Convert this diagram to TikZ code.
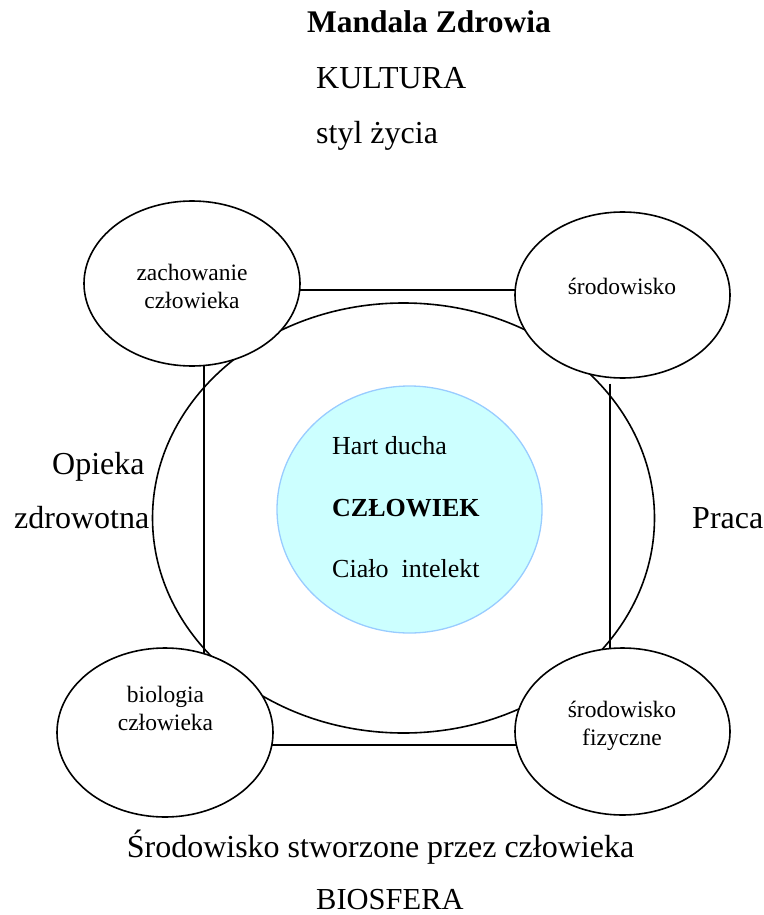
\documentclass[tikz,border=0pt]{standalone}
\usepackage{fontspec}
\setmainfont{Liberation Serif}
\usetikzlibrary{shapes.geometric}
\definecolor{corefill}{RGB}{204,255,255}
\definecolor{coreline}{RGB}{153,204,255}
\begin{document}
\begin{tikzpicture}[x=1pt,y=-1pt,
  bigtext/.style={font=\fontsize{32}{38}\selectfont, inner sep=0pt},
  ovaltext/.style={font=\fontsize{23.5}{28}\selectfont, align=center, inner sep=0pt},
  coretext/.style={font=\fontsize{26}{30}\selectfont, inner sep=0pt, anchor=base west},
  oval/.style={ellipse, draw, line width=1.6pt, fill=white, inner sep=0pt, outer sep=0pt},
  link/.style={line width=1.6pt},
]
\useasboundingbox (0,0) rectangle (763,915);

% big ellipse
\node[ellipse, draw, line width=1.6pt, inner sep=0pt, outer sep=0pt,
      minimum width=502pt, minimum height=430pt] (big) at (403.5,518) {};

% corner ovals
\node[oval, minimum width=216pt, minimum height=165pt] (tl) at (192,283.5) {};
\node[oval, minimum width=215pt, minimum height=166pt] (tr) at (622.5,295) {};
\node[oval, minimum width=216pt, minimum height=169pt] (bl) at (165,732.5) {};
\node[oval, minimum width=215pt, minimum height=167pt] (br) at (622.5,731.5) {};

% connector end points
\coordinate (topy) at (0,290);
\coordinate (boty) at (0,745);
\coordinate (leftx) at (204,0);
\coordinate (rightx) at (610,0);

% connectors
\draw[link] (tl.-3.45 |- topy) -- (tr.177.3 |- topy);
\draw[link] (tl.-81.7 -| leftx) -- (bl.63.7 -| leftx);
\draw[link, shorten <=6pt] (tr.-97.9 -| rightx) -- (br.97.9 -| rightx);
\draw[link] (bl.-6.7 |- boty) -- (br.-172.75 |- boty);

% core circle
\node[ellipse, draw=coreline, fill=corefill, line width=1.3pt, inner sep=0pt,
      minimum width=265pt, minimum height=247pt] (core) at (409.5,509.5) {};

% texts in ovals
\node[ovaltext] (tltext) at (192,286.5) {zachowanie\\człowieka};
\node[ovaltext] (trtext) at (622,286) {środowisko};
\node[ovaltext] (bltext) at (165.5,708.5) {biologia\\człowieka};
\node[ovaltext] (brtext) at (622,726) {środowisko\\fizyczne};

% core texts
\node[coretext] (hart) at (332,454) {Hart ducha};
\node[coretext, font=\fontsize{26}{30}\selectfont\bfseries] (czl) at (332,516) {CZŁOWIEK};
\node[coretext] (cialo) at (332,577) {Ciało\ \ intelekt};

% outer labels
\node[bigtext, anchor=base, font=\fontsize{31.5}{37}\selectfont\bfseries] (title) at (429,33) {Mandala Zdrowia};
\node[bigtext, anchor=base west] (kultura) at (316,89) {KULTURA};
\node[bigtext, anchor=base west] (styl) at (316,143) {styl życia};
\node[bigtext, anchor=base west] (opieka) at (52,474) {Opieka};
\node[bigtext, anchor=base west] (zdrow) at (14,528) {zdrowotna};
\node[bigtext, anchor=base west] (praca) at (692,528) {Praca};
\node[bigtext, anchor=base] (srod) at (380.5,857) {Środowisko stworzone przez człowieka};
\node[bigtext, anchor=base west, font=\fontsize{30.5}{36}\selectfont] (bio) at (316,909) {BIOSFERA};
\end{tikzpicture}
\end{document}
